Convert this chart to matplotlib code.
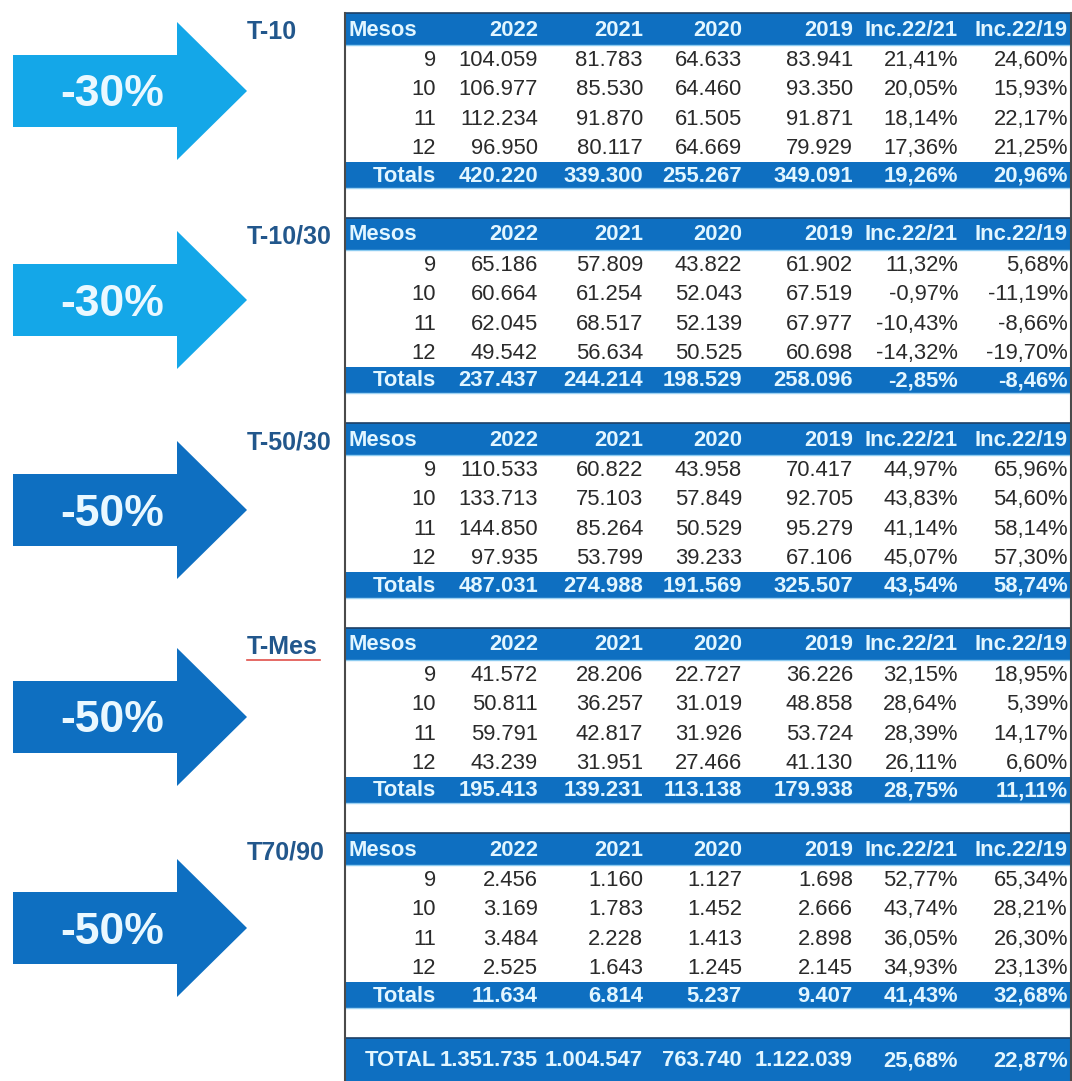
import matplotlib.pyplot as plt
from matplotlib.patches import Polygon, Rectangle

# ---- data ----
section_labels = ['T-10', 'T-10/30', 'T-50/30', 'T-Mes', 'T70/90']
arrow_labels = ['-30%', '-30%', '-50%', '-50%', '-50%']
header = ['Mesos', '2022', '2021', '2020', '2019', 'Inc.22/21', 'Inc.22/19']
months = [9, 10, 11, 12]

# per section: months 9..12 then Totals
v2022 = [[104059, 106977, 112234, 96950, 420220],
         [65186, 60664, 62045, 49542, 237437],
         [110533, 133713, 144850, 97935, 487031],
         [41572, 50811, 59791, 43239, 195413],
         [2456, 3169, 3484, 2525, 11634]]
v2021 = [[81783, 85530, 91870, 80117, 339300],
         [57809, 61254, 68517, 56634, 244214],
         [60822, 75103, 85264, 53799, 274988],
         [28206, 36257, 42817, 31951, 139231],
         [1160, 1783, 2228, 1643, 6814]]
v2020 = [[64633, 64460, 61505, 64669, 255267],
         [43822, 52043, 52139, 50525, 198529],
         [43958, 57849, 50529, 39233, 191569],
         [22727, 31019, 31926, 27466, 113138],
         [1127, 1452, 1413, 1245, 5237]]
v2019 = [[83941, 93350, 91871, 79929, 349091],
         [61902, 67519, 67977, 60698, 258096],
         [70417, 92705, 95279, 67106, 325507],
         [36226, 48858, 53724, 41130, 179938],
         [1698, 2666, 2898, 2145, 9407]]
inc_22_21 = [[21.41, 20.05, 18.14, 17.36, 19.26],
             [11.32, -0.97, -10.43, -14.32, -2.85],
             [44.97, 43.83, 41.14, 45.07, 43.54],
             [32.15, 28.64, 28.39, 26.11, 28.75],
             [52.77, 43.74, 36.05, 34.93, 41.43]]
inc_22_19 = [[24.60, 15.93, 22.17, 21.25, 20.96],
             [5.68, -11.19, -8.66, -19.70, -8.46],
             [65.96, 54.60, 58.14, 57.30, 58.74],
             [18.95, 5.39, 14.17, 6.60, 11.11],
             [65.34, 28.21, 26.30, 23.13, 32.68]]
grand_total = [1351735, 1004547, 763740, 1122039, 25.68, 22.87]


def fmt_int(v):
    return f"{v:,}".replace(',', '.')


def fmt_pct(v):
    return f"{v:.2f}".replace('.', ',') + '%'


# ---- style ----
plt.rcParams['font.family'] = ['Liberation Sans', 'DejaVu Sans']
BLUE = '#0e6fc1'
LIGHT = '#14a7e8'
HEAD_TXT = '#e2f6ff'
BODY_TXT = '#2a2a2a'
LABEL_TXT = '#22578c'
ARROW_COLORS = [LIGHT, LIGHT, BLUE, BLUE, BLUE]

W, H = 1072, 1081
fig = plt.figure(figsize=(W / 100, H / 100), dpi=100, facecolor='white')
ax = fig.add_axes([0, 0, 1, 1])
ax.set_xlim(0, W)
ax.set_ylim(H, 0)
ax.axis('off')

# layout in pixels
tbl_left, tbl_right = 345, 1071
col_right = [436, 538, 643, 742, 853, 958, 1068]
sec_top, period = 13, 205
head_h, row_h, tot_h = 32, 29.25, 26
fs_body = 15.8
fs_label = 18

for s in range(5):
    t = sec_top + s * period
    # header band
    ax.add_patch(Rectangle((tbl_left, t), tbl_right - tbl_left, head_h,
                           facecolor=BLUE, edgecolor='none'))
    ax.plot([tbl_left, tbl_right], [t, t], color='#1d3f66', lw=1.2)
    ax.plot([tbl_left, tbl_right], [t + head_h, t + head_h], color='#8ccbf0', lw=1)
    yc = t + head_h / 2 + 1
    ax.text(tbl_left + 3, yc, header[0], ha='left', va='center',
            fontsize=fs_body, fontweight='bold', color=HEAD_TXT)
    for c in range(1, 7):
        ax.text(col_right[c], yc, header[c], ha='right', va='center',
                fontsize=fs_body, fontweight='bold', color=HEAD_TXT)

    # month rows
    for r, m in enumerate(months):
        y = t + head_h + row_h * (r + 0.5) + 1
        vals = [str(m), fmt_int(v2022[s][r]), fmt_int(v2021[s][r]),
                fmt_int(v2020[s][r]), fmt_int(v2019[s][r]),
                fmt_pct(inc_22_21[s][r]), fmt_pct(inc_22_19[s][r])]
        for c, txt in enumerate(vals):
            ax.text(col_right[c], y, txt, ha='right', va='center',
                    fontsize=fs_body, color=BODY_TXT)

    # totals row
    ty = t + head_h + 4 * row_h
    ax.add_patch(Rectangle((tbl_left, ty), tbl_right - tbl_left, tot_h,
                           facecolor=BLUE, edgecolor='none'))
    ax.plot([tbl_left, tbl_right], [ty + tot_h, ty + tot_h], color='#9fd2f2', lw=1)
    vals = ['Totals', fmt_int(v2022[s][4]), fmt_int(v2021[s][4]),
            fmt_int(v2020[s][4]), fmt_int(v2019[s][4]),
            fmt_pct(inc_22_21[s][4]), fmt_pct(inc_22_19[s][4])]
    for c, txt in enumerate(vals):
        ax.text(col_right[c], ty + tot_h / 2 + 1, txt, ha='right', va='center',
                fontsize=fs_body, fontweight='bold', color=HEAD_TXT)

    # section label
    ax.text(247, t + 19, section_labels[s], ha='left', va='center',
            fontsize=fs_label, fontweight='bold', color=LABEL_TXT)
    if section_labels[s] == 'T-Mes':
        ax.plot([247, 320], [t + 32, t + 32], color='#e0504a', lw=1.2)

# arrows
arrow_cy = [91, 300, 510, 717, 928]
for s in range(5):
    cy = arrow_cy[s]
    pts = [(13, cy - 36), (177, cy - 36), (177, cy - 69), (247, cy),
           (177, cy + 69), (177, cy + 36), (13, cy + 36)]
    ax.add_patch(Polygon(pts, closed=True, facecolor=ARROW_COLORS[s],
                         edgecolor='none'))
    ax.text(112, cy + 4, arrow_labels[s], ha='center', va='center',
            fontsize=32, fontweight='bold', color='#eaf8ff')

# grand total band
gt_top = 1038
ax.add_patch(Rectangle((tbl_left, gt_top), tbl_right - tbl_left, H - gt_top,
                       facecolor=BLUE, edgecolor='none'))
ax.plot([tbl_left, tbl_right], [gt_top, gt_top], color='#1d3f66', lw=1.2)
vals = ['TOTAL'] + [fmt_int(v) for v in grand_total[:4]] + \
       [fmt_pct(v) for v in grand_total[4:]]
for c, txt in enumerate(vals):
    ax.text(col_right[c], 1061, txt, ha='right', va='center',
            fontsize=fs_body, fontweight='bold', color=HEAD_TXT)

# table borders
ax.plot([tbl_left, tbl_left], [sec_top, H], color='#4a4a4a', lw=1.5)
ax.plot([tbl_right, tbl_right], [sec_top, H], color='#4a4a4a', lw=1.5)

fig.savefig('out.png', dpi=100, facecolor='white')
